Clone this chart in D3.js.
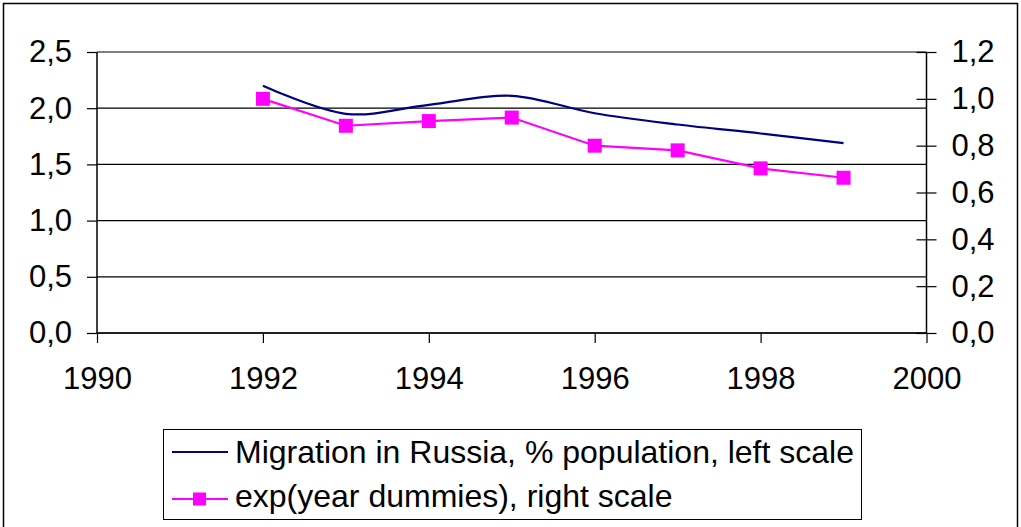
<!DOCTYPE html>
<html><head><meta charset="utf-8">
<script src="https://cdn.jsdelivr.net/npm/d3@7"></script>
<style>body{margin:0;background:#fff}svg{display:block}text{font-family:"Liberation Sans",Arial,sans-serif;fill:#000}</style>
</head><body><svg id="c" width="1021" height="527"></svg>
<script>
const years = [1992,1993,1994,1995,1996,1997,1998,1999];
const migration = [2.20,1.95,2.03,2.11,1.955,1.855,1.775,1.69];
const expDummies = [1.00,0.885,0.905,0.92,0.80,0.78,0.703,0.663];
const xTicks = [1990,1992,1994,1996,1998,2000];
const leftTicks = [0,0.5,1.0,1.5,2.0,2.5];
const rightTicks = [0,0.2,0.4,0.6,0.8,1.0,1.2];
const legendLabels = ["Migration in Russia, % population, left scale","exp(year dummies), right scale"];

const svg = d3.select("#c");
const L=97, R=926.5, T=52, B=333;
const x = d3.scaleLinear().domain([1990,2000]).range([L,R]);
const yL = d3.scaleLinear().domain([0,2.5]).range([B,T]);
const yR = d3.scaleLinear().domain([0,1.2]).range([B,T]);
const fmt = v => d3.format(".1f")(v).replace(".",",");

// outer border
svg.append("rect").attr("x",3.5).attr("y",3.5).attr("width",1014).attr("height",540)
  .attr("fill","none").attr("stroke","#000").attr("stroke-width",1.5);

// gridlines
svg.append("g").selectAll("line").data(leftTicks).join("line")
  .attr("x1",L).attr("x2",R).attr("y1",d=>yL(d)).attr("y2",d=>yL(d))
  .attr("stroke","#000").attr("stroke-width",1.2);

// left axis
const gL = svg.append("g").attr("transform",`translate(${L},0)`)
  .call(d3.axisLeft(yL).tickValues(leftTicks).tickFormat(fmt).tickSize(10).tickPadding(15));
// right axis
const gR = svg.append("g").attr("transform",`translate(${R},0)`)
  .call(d3.axisRight(yR).tickValues(rightTicks).tickFormat(fmt).tickSize(10).tickPadding(15));
gR.selectAll(".tick line").attr("x1",-10);
// bottom axis
const gB = svg.append("g").attr("transform",`translate(0,${B})`)
  .call(d3.axisBottom(x).tickValues(xTicks).tickFormat(d3.format("d")).tickSize(10));
[gL,gR,gB].forEach(g=>{
  g.select(".domain").attr("stroke","#000").attr("stroke-width",1.5);
  g.selectAll(".tick line").attr("stroke","#000").attr("stroke-width",1.2);
  g.selectAll("text").attr("font-size",31).attr("font-family","Liberation Sans, Arial, sans-serif").attr("fill","#000");
});
gL.select(".domain").attr("d",`M0,${T}V${B}`);
gR.select(".domain").attr("d",`M0,${T}V${B}`);
gB.select(".domain").attr("d",`M${L},0H${R}`);
gB.selectAll("text").attr("y",56).attr("dy",0);

// migration line (smoothed)
svg.append("path").datum(years.map((y,i)=>[y,migration[i]]))
  .attr("fill","none").attr("stroke","#000080").attr("stroke-width",2.2)
  .attr("d",d3.line().x(d=>x(d[0])).y(d=>yL(d[1])).curve(d3.curveCardinal.tension(0)));

// exp dummies line
const ed = years.map((y,i)=>[y,expDummies[i]]);
svg.append("path").datum(ed)
  .attr("fill","none").attr("stroke","#FF00FF").attr("stroke-width",2.2)
  .attr("d",d3.line().x(d=>x(d[0])).y(d=>yR(d[1])));
const ms=14;
svg.append("g").selectAll("rect").data(ed).join("rect")
  .attr("x",d=>x(d[0])-ms/2).attr("y",d=>yR(d[1])-ms/2).attr("width",ms).attr("height",ms)
  .attr("fill","#FF00FF");

// legend
const lg = svg.append("g");
lg.append("rect").attr("x",163.5).attr("y",429.5).attr("width",698).attr("height",90)
  .attr("fill","#fff").attr("stroke","#000").attr("stroke-width",1);
const ly=[452,499];
lg.append("line").attr("x1",172).attr("x2",228).attr("y1",ly[0]).attr("y2",ly[0]).attr("stroke","#000080").attr("stroke-width",2.2);
lg.append("line").attr("x1",172).attr("x2",228).attr("y1",ly[1]).attr("y2",ly[1]).attr("stroke","#FF00FF").attr("stroke-width",2.2);
lg.append("rect").attr("x",199.5-6.5).attr("y",ly[1]-6.5).attr("width",13).attr("height",13).attr("fill","#FF00FF");
lg.selectAll("text.l").data(legendLabels).join("text").attr("class","l")
  .attr("x",235).attr("y",(d,i)=>[463,507][i]).attr("font-size",32).text(d=>d);
</script></body></html>
